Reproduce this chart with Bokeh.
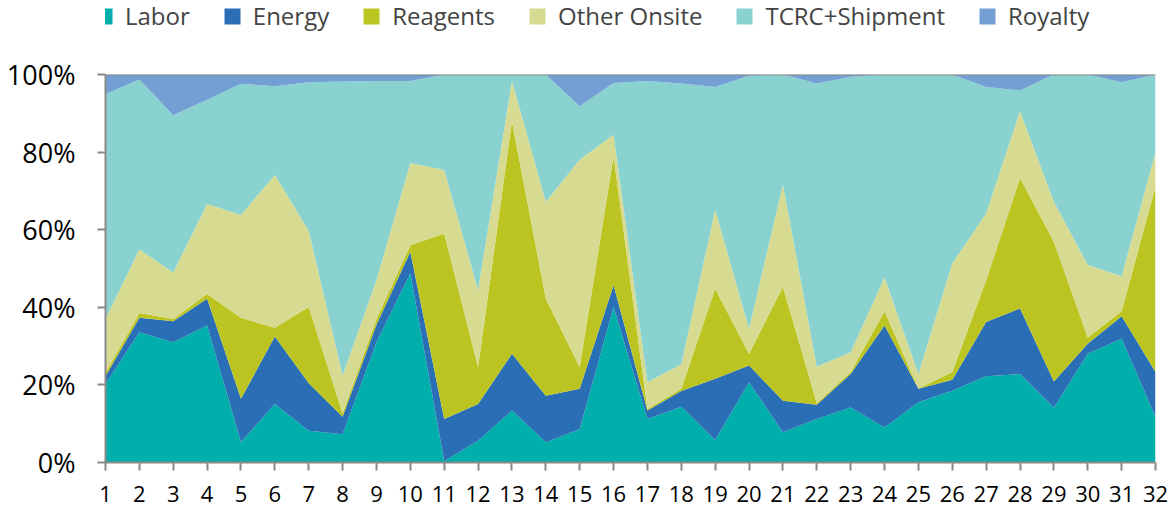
from bokeh.plotting import figure
from bokeh.layouts import column
from bokeh.models import ColumnDataSource, Range1d, FixedTicker, PrintfTickFormatter, Span, Legend
from bokeh.embed import file_html
from bokeh.resources import INLINE

x = list(range(1, 33))
labor = [20.3, 33.6, 31.0, 35.3, 5.2, 15.1, 8.2, 7.3, 31.0, 48.7, 0.4, 5.6, 13.4, 5.2, 8.6, 40.1,
         11.2, 14.4, 5.8, 20.7, 7.8, 11.2, 14.2, 9.0, 15.5, 18.5, 22.2, 22.8, 14.1, 28.0, 31.9, 11.8]
energy = [1.9, 3.7, 5.4, 6.9, 11.2, 17.4, 12.2, 4.5, 4.5, 5.6, 10.8, 9.5, 14.6, 12.0, 10.4, 5.6,
          2.2, 4.0, 15.8, 4.3, 8.1, 3.7, 8.6, 26.3, 3.5, 2.8, 14.0, 16.9, 6.8, 2.6, 5.8, 11.5]
reagents = [0.9, 1.2, 0.6, 1.2, 20.9, 2.2, 19.7, 0.9, 1.5, 1.7, 47.8, 9.5, 59.9, 25.0, 5.6, 33.2,
            0.4, 0.6, 23.2, 3.0, 29.4, 0.4, 0.5, 3.7, 0.1, 2.0, 10.8, 33.6, 36.0, 1.6, 1.3, 47.8]
other_onsite = [13.9, 16.4, 12.0, 23.2, 26.5, 39.4, 19.6, 9.7, 10.0, 21.2, 16.4, 19.8, 10.4, 25.0, 53.4, 5.6,
                6.9, 6.3, 20.3, 6.5, 26.3, 9.4, 5.1, 8.7, 3.7, 28.0, 17.2, 17.2, 10.3, 18.7, 9.0, 8.8]
tcrc_shipment = [58.0, 43.8, 40.5, 26.9, 33.8, 22.9, 38.3, 75.8, 51.3, 21.1, 24.6, 55.6, 1.7, 32.8, 13.8, 13.3,
                 77.6, 72.4, 31.7, 65.2, 28.4, 73.0, 71.0, 52.3, 77.2, 48.7, 32.6, 5.4, 32.8, 49.1, 50.0, 20.1]
royalty = [5.0, 1.3, 10.5, 6.5, 2.4, 3.0, 2.0, 1.8, 1.7, 1.7, 0.0, 0.0, 0.0, 0.0, 8.2, 2.2,
           1.7, 2.3, 3.2, 0.3, 0.0, 2.3, 0.6, 0.0, 0.0, 0.0, 3.2, 4.1, 0.0, 0.0, 2.0, 0.0]

names = ["Labor", "Energy", "Reagents", "Other Onsite", "TCRC+Shipment", "Royalty"]
colors = ["#00AEAB", "#2A6FB6", "#BBC420", "#D7DB91", "#89D2CF", "#739FD4"]
y_ticks = [0, 20, 40, 60, 80, 100]

source = ColumnDataSource(dict(x=x, **{
    "Labor": labor, "Energy": energy, "Reagents": reagents,
    "Other Onsite": other_onsite, "TCRC+Shipment": tcrc_shipment, "Royalty": royalty}))

FONT = "Open Sans"
W = 1169
H = 507
LEG_H = 40

# legend strip (its own figure, so the legend is not clipped by the chart frame)
pl = figure(width=W, height=LEG_H, output_backend="svg", toolbar_location=None,
            x_range=Range1d(1000, 1001), y_range=Range1d(0, 1),
            x_axis_type=None, y_axis_type=None, min_border=0)
pl.outline_line_color = None
pl.grid.visible = False
lrs = pl.varea_stack(stackers=names, x="x", color=colors, source=source)
legend = Legend(items=[(n, [r]) for n, r in zip(names, lrs)], orientation="horizontal",
                location=(-11, 8), padding=0, margin=0, spacing=32,
                glyph_width=20, glyph_height=20, label_standoff=11,
                label_text_font=FONT, label_text_font_size="24px",
                border_line_color=None, background_fill_alpha=0)
pl.add_layout(legend, "center")

# main chart
p = figure(width=W, height=H - LEG_H, output_backend="svg", toolbar_location=None,
           x_range=Range1d(1, 32), y_range=Range1d(0, 100),
           min_border_left=105, min_border_right=14, min_border_top=74 - LEG_H, min_border_bottom=45)
p.outline_line_color = None
p.grid.visible = False

p.varea_stack(stackers=names, x="x", color=colors, source=source)
p.add_layout(Span(location=100, dimension="width", line_color="#898989", line_width=2))

for ax in (p.xaxis[0], p.yaxis[0]):
    ax.axis_line_color = "#898989"
    ax.axis_line_width = 2
    ax.major_tick_line_color = "#898989"
    ax.major_tick_line_width = 2
    ax.major_tick_in = 0
    ax.major_tick_out = 8
    ax.minor_tick_line_color = None
    ax.major_label_text_font = FONT
    ax.major_label_text_color = "#000000"

p.yaxis.ticker = FixedTicker(ticks=y_ticks)
p.yaxis.formatter = PrintfTickFormatter(format="%d%%")
p.yaxis.major_label_text_font_size = "27px"
p.yaxis.major_label_standoff = 22

p.xaxis.ticker = FixedTicker(ticks=x)
p.xaxis.major_label_text_font_size = "22px"
p.xaxis.major_label_text_line_height = 0.5
p.xaxis.major_label_standoff = 15

layout = column(pl, p, spacing=0)
open("out.html", "w").write(file_html(layout, INLINE))
